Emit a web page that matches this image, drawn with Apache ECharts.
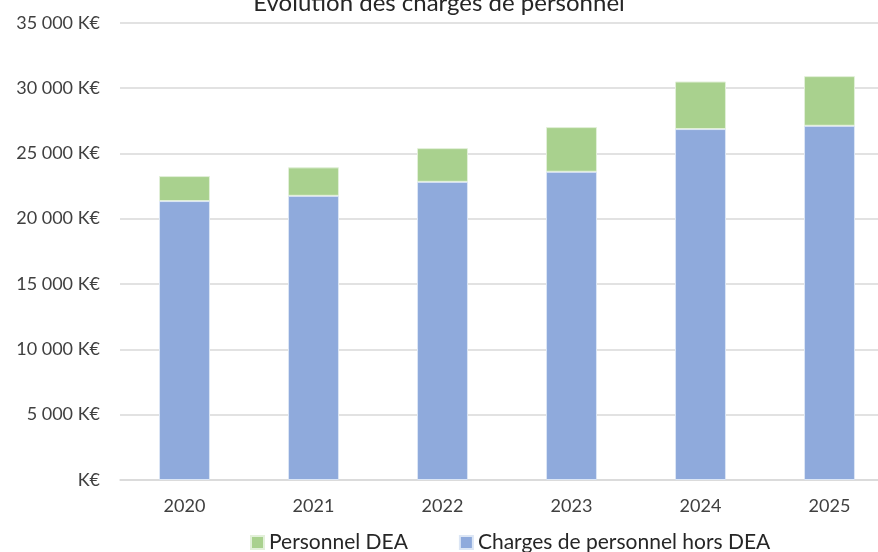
<!DOCTYPE html>
<html>
<head>
<meta charset="utf-8">
<script src="https://cdn.jsdelivr.net/npm/echarts@6/dist/echarts.min.js"></script>
<style>
    html, body { margin: 0; padding: 0; background: #fff; }
    #chart { width: 878px; height: 552px; }
</style>
</head>
<body>
<div id="chart"></div>
<script>
var years = ['2020', '2021', '2022', '2023', '2024', '2025'];
// charges hors DEA (K€)
var horsDea = [21350, 21750, 22820, 23590, 26860, 27110];
// personnel DEA (K€)
var dea = [1910, 2180, 2580, 3420, 3640, 3800];

var font = 'Lato, Noto Sans, sans-serif';

function fmt(v) {
    if (v == 0) return 'K€';
    return String(v).replace(/\B(?=(\d{3})+(?!\d))/g, ' ') + ' K€';
}

var chart = echarts.init(document.getElementById('chart'));
var option = {
    title: {
        text: 'Evolution des charges de personnel',
        left: 'center',
        top: -14,
        textStyle: { fontFamily: font, fontSize: 24, fontWeight: 'normal', color: '#262626' }
    },
    legend: {
        data: ['Personnel DEA', 'Charges de personnel hors DEA'],
        top: 527,
        left: 245,
        itemWidth: 13,
        itemHeight: 13,
        itemGap: 51,
        icon: 'rect',
        textStyle: { fontFamily: font, fontSize: 21, color: '#262626' }
    },
    grid: { left: 120, right: -16, top: 22.7, bottom: 72, containLabel: false, outerBoundsMode: 'none' },
    xAxis: {
        type: 'category',
        data: years,
        axisLine: { lineStyle: { color: '#d9d9d9', width: 1.5 } },
        axisTick: { show: false },
        axisLabel: { fontFamily: font, fontSize: 18, color: '#404040', margin: 17 }
    },
    yAxis: {
        type: 'value',
        min: 0,
        max: 35000,
        interval: 5000,
        axisLine: { show: false },
        axisTick: { show: false },
        splitLine: { lineStyle: { color: '#d9d9d9', width: 1.5 } },
        axisLabel: { fontFamily: font, fontSize: 18, color: '#404040', margin: 20, formatter: fmt }
    },
    series: [
        {
            name: 'Charges de personnel hors DEA',
            type: 'bar',
            stack: 'total',
            data: horsDea,
            barWidth: '39.5%',
            itemStyle: { color: '#8faadc', borderColor: '#dce6f5', borderWidth: 1 }
        },
        {
            name: 'Personnel DEA',
            type: 'bar',
            stack: 'total',
            data: dea,
            itemStyle: { color: '#a9d18e', borderColor: '#e2f0d9', borderWidth: 1 }
        }
    ]
};
chart.setOption(option);
</script>
</body>
</html>
